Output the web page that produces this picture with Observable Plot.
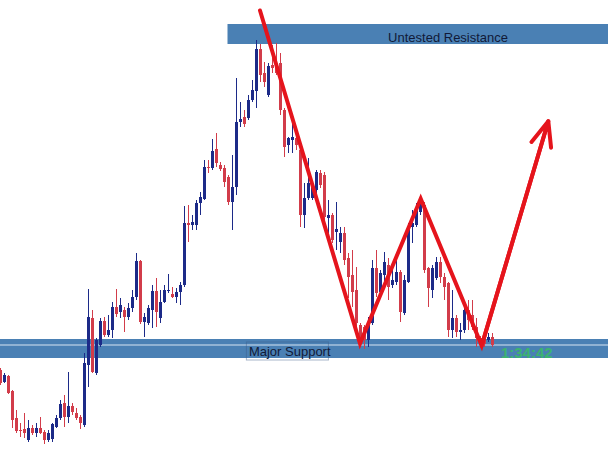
<!DOCTYPE html>
<html><head><meta charset="utf-8">
<script src="https://cdn.jsdelivr.net/npm/d3@7"></script>
<script src="https://cdn.jsdelivr.net/npm/@observablehq/plot@0.6"></script>
<style>html,body{margin:0;padding:0;background:#fff;overflow:hidden}#chart svg{display:block}</style>
</head><body><div id="chart"></div>
<script>
// Candle values (price units), one entry per bar
const open  = [91,79,85,70,43,31,32,21,33,28,33,29,21,22,34,43,58,44,55,48,44,36,96,143,88,116,140,126,131,154,149,151,144,153,164,200,139,138,151,170,143,159,170,167,164,169,176,238,236,236,258,262,294,293,312,296,293,284,259,274,339,344,343,361,370,412,388,366,396,396,398,351,316,321,323,311,246,263,263,271,288,286,243,246,229,219,228,203,186,171,136,134,121,138,193,169,186,196,176,179,189,148,179,234,236,249,256,193,171,183,199,184,178,131,143,129,131,151,146,134,123,121,121,124];
const high  = [93,88,86,71,51,38,48,41,36,38,44,31,31,38,46,61,66,89,58,53,46,108,172,151,123,143,144,146,159,172,163,154,158,171,208,201,148,156,176,183,171,176,187,174,173,179,255,256,246,261,269,301,301,322,328,299,296,286,306,383,359,351,366,381,421,417,399,398,416,418,408,353,324,339,326,321,278,303,276,291,291,289,261,248,259,234,234,208,211,194,138,136,144,201,211,191,209,203,191,204,191,186,238,251,258,263,259,194,196,204,204,188,179,171,146,138,154,161,161,143,125,124,128,128];
const low   = [76,78,67,33,28,24,23,19,26,24,27,17,19,19,33,41,34,38,46,41,32,34,74,88,86,114,124,124,123,144,143,129,141,149,161,137,124,136,133,134,138,158,168,163,158,156,174,219,231,231,246,261,288,291,294,290,274,256,231,266,334,334,341,359,353,379,374,364,388,386,346,304,308,308,311,234,233,261,261,268,273,241,228,218,211,208,196,163,154,124,118,112,114,136,164,164,178,161,173,176,139,146,178,218,234,246,188,154,163,181,178,161,124,123,124,121,128,131,131,114,113,114,119,114];
const close = [78,86,68,41,30,30,28,33,28,33,28,21,28,37,43,57,44,55,49,43,38,98,144,89,121,140,126,131,154,147,156,144,153,164,200,139,144,153,170,149,159,171,171,164,169,176,238,236,239,258,264,294,293,310,298,292,279,259,274,339,342,337,361,371,412,386,379,395,393,388,351,314,323,324,316,246,263,278,274,289,276,244,246,221,232,228,201,184,169,138,124,121,139,193,168,188,199,174,181,189,149,181,234,238,251,259,191,173,193,199,184,174,131,143,129,131,151,141,134,123,116,117,124,116];

// Horizontal zones (price levels) and annotation
const supportZone = [103, 122];
const supportLine = 116.5;
const resistanceZone = [417, 437];
const resistanceStart = 56.875;
const zigzagX = [64.875, 89.875, 105.05, 120.3, 136.95];
const zigzagY = [451, 118, 262.7, 116, 340.3];
const timerLabel = "1:34:42";

const BLUE = "#1c2a88", RED = "#d23c4a", ZONE = "#4a80b4", ARROW = "#e5141c", INK = "#111a38";

const table = open.map((o, i) => {
  const c = close[i];
  return {i, o, c: Math.abs(o - c) < 1 ? o + (c >= o ? 1 : -1) : c, h: high[i], l: low[i], up: c >= o};
});
const ups = table.filter(d => d.up), downs = table.filter(d => !d.up);
const zig = zigzagX.map((x, k) => ({x, y: zigzagY[k]}));
const n = zig.length;

const chart = Plot.plot({
  width: 608, height: 461, margin: 0,
  x: {domain: [0, 152], axis: null},
  y: {domain: [0, 461], axis: null},
  marks: [
    Plot.rect([{x1: -1, x2: 153, y1: supportZone[0], y2: supportZone[1]}], {x1: "x1", x2: "x2", y1: "y1", y2: "y2", fill: ZONE}),
    Plot.ruleY([supportLine], {stroke: "#d6e4f2", strokeWidth: 1}),
    Plot.rect([{x1: resistanceStart, x2: 153, y1: resistanceZone[0], y2: resistanceZone[1]}], {x1: "x1", x2: "x2", y1: "y1", y2: "y2", fill: ZONE}),
    Plot.ruleX(ups, {x: "i", y1: "l", y2: "h", stroke: BLUE, strokeWidth: 1}),
    Plot.ruleX(downs, {x: "i", y1: "l", y2: "h", stroke: RED, strokeWidth: 1}),
    Plot.ruleX(ups, {x: "i", y1: "o", y2: "c", stroke: BLUE, strokeWidth: 3}),
    Plot.ruleX(downs, {x: "i", y1: "o", y2: "c", stroke: RED, strokeWidth: 3}),
    Plot.line(zig, {x: "x", y: "y", stroke: ARROW, strokeWidth: 4, strokeLinejoin: "miter", strokeMiterlimit: 10}),
    Plot.arrow([{x1: zig[n-2].x, y1: zig[n-2].y, x2: zig[n-1].x, y2: zig[n-1].y}], {x1: "x1", y1: "y1", x2: "x2", y2: "y2", stroke: ARROW, strokeWidth: 4, headLength: 10, headAngle: 45}),
    Plot.text([{x: 96.9, y: 424, t: "Untested Resistance"}], {x: "x", y: "y", text: "t", textAnchor: "start", fontSize: 13, fill: INK, fontFamily: "Liberation Sans, Arial, sans-serif"}),
    Plot.rect([{x1: 61.6, x2: 82.1, y1: 101, y2: 119}], {x1: "x1", x2: "x2", y1: "y1", y2: "y2", fill: "none", stroke: "#3a5a88", strokeOpacity: 0.45, strokeWidth: 1}),
    Plot.text([{x: 62.1, y: 110, t: "Major Support"}], {x: "x", y: "y", text: "t", textAnchor: "start", fontSize: 13, fill: INK, fontFamily: "Liberation Sans, Arial, sans-serif"}),
    Plot.text([{x: 125.1, y: 108, t: timerLabel}], {x: "x", y: "y", text: "t", textAnchor: "start", fontSize: 15, fontWeight: "bold", fill: "#3cb371", fontFamily: "Liberation Sans, Arial, sans-serif"})
  ]
});
document.getElementById("chart").append(chart);
</script>
</body></html>
